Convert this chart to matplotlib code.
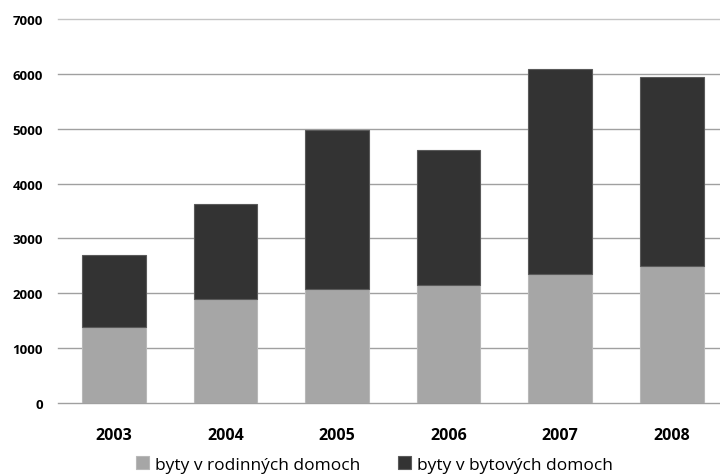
import matplotlib.pyplot as plt
import numpy as np

plt.rcParams['font.family'] = ['Open Sans', 'DejaVu Sans']

roky = ['2003', '2004', '2005', '2006', '2007', '2008']
rodinne = [1380, 1900, 2080, 2160, 2350, 2490]
bytove = [1320, 1720, 2900, 2450, 3740, 3450]
y_ticks = [0, 1000, 2000, 3000, 4000, 5000, 6000, 7000]

fig = plt.figure(figsize=(7.2, 4.77), dpi=100)
ax = fig.add_axes([0.0806, 0.153, 0.9194, 0.805])

x = np.arange(len(roky))
sirka = 0.57
b1 = ax.bar(x, rodinne, sirka, color='#a6a6a6', edgecolor='#b8b8b8', linewidth=0.8,
            label='byty v rodinných domoch', zorder=3)
b2 = ax.bar(x, bytove, sirka, bottom=rodinne, color='#333333', edgecolor='#5a5a5a',
            linewidth=0.8, label='byty v bytových domoch', zorder=3)

ax.set_ylim(0, 7000)
ax.set_xlim(-0.5, -0.5 + 662 / 111.6)
ax.set_yticks(y_ticks)
ax.set_xticks(x)
ax.set_xticklabels(roky, fontsize=11.5, fontweight='bold')
ax.set_yticklabels([str(v) for v in y_ticks], fontsize=9.5, fontweight='bold')
ax.tick_params(length=0)
ax.tick_params(axis='y', pad=11)
ax.tick_params(axis='x', pad=17)

for s in ax.spines.values():
    s.set_visible(False)
for v in y_ticks:
    ax.axhline(v, color='#c4c4c4' if v == 7000 else '#a0a0a0', linewidth=1.0, zorder=1,
               clip_on=False)

fig.legend(handles=[b1, b2], loc='lower center', bbox_to_anchor=(0.52, -0.026), ncol=2,
           frameon=False, fontsize=12.5, handlelength=0.75, handleheight=0.75,
           handletextpad=0.35, columnspacing=2.2)

fig.savefig('out.png', dpi=100)
plt.close(fig)
